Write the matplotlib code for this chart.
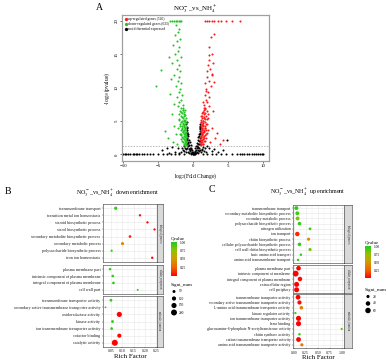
import numpy as np
import matplotlib
matplotlib.use("Agg")
import matplotlib.pyplot as plt
import matplotlib.colorbar as mcb
from matplotlib.colors import LinearSegmentedColormap, Normalize

plt.rcParams['font.family'] = ['Liberation Serif', 'DejaVu Serif']
plt.rcParams['mathtext.fontset'] = 'stix'

# ---------------- volcano data (A) ----------------
down_x = [-1.05, -1.10, -1.20, -1.15, -1.30, -1.10, -1.25, -1.40, -1.20, -1.35, -1.50, -1.30, -1.60, -1.45, -1.70, -1.55,
          -1.40, -1.60, -1.50, -1.70, -1.45, -1.80, -1.60, -1.90, -1.70, -2.00, -1.80, -2.10, -1.90, -2.20, -2.00, -1.75,
          -2.30, -1.60, -2.10, -1.85, -2.50, -1.70, -2.20, -2.00, -2.70, -1.90, -2.40, -2.10, -3.00, -2.30, -1.80, -2.60,
          -2.20, -2.00, -2.90, -2.40, -1.90, -2.60, -2.20, -2.00, -2.50,
          -1.02, -1.08, -1.12, -1.18, -1.22, -1.28, -1.03, -1.06, -1.14, -1.24, -1.33, -1.38, -1.42, -1.48, -1.52, -1.58, -1.65, -1.75,
          -3.30, -3.00, -2.80, -2.50, -2.30, -2.10, -1.90, -1.70,
          -5.30, -4.60, -3.40, -3.10, -2.80, -2.50, -3.60, -2.90, -2.30, -4.00, -3.20, -2.70, -3.50,
          -1.01, -1.04, -1.07, -1.09, -1.11, -1.13, -1.16, -1.19, -1.21, -1.23, -1.26, -1.29, -1.31, -1.34, -1.36,
          -1.39, -1.41, -1.44, -1.47, -1.51, -1.54, -1.57, -1.62, -1.67, -1.72, -1.78, -1.85, -1.95, -2.05, -2.15]
down_y = [1.40, 1.80, 2.20, 2.60, 3.00, 3.40, 3.80, 4.20, 4.60, 5.00, 5.40, 5.80, 6.20, 6.60, 7.00, 7.40,
          1.60, 2.00, 2.50, 2.90, 3.30, 3.70, 4.00, 4.50, 4.90, 5.30, 5.70, 6.10, 6.50, 7.20, 7.80, 8.20,
          8.60, 8.90, 9.30, 9.80, 10.2, 10.6, 11.0, 11.5, 11.9, 12.4, 12.8, 13.3, 13.7, 14.1, 14.6, 15.0,
          15.5, 16.0, 16.4, 16.9, 17.3, 17.8, 18.3, 18.8, 19.3,
          1.50, 2.10, 2.70, 3.20, 3.60, 4.40, 2.40, 4.80, 5.20, 3.90, 6.30, 2.30, 4.70, 3.50, 6.90, 5.60, 4.30, 3.10,
          20, 20, 20, 20, 20, 20, 20, 20,
          10.2, 12.6, 9.0, 6.0, 4.2, 3.0, 2.4, 1.8, 1.5, 3.5, 11.2, 7.5, 14.5,
          1.9, 3.3, 4.1, 5.5, 2.9, 4.9, 1.7, 6.6, 3.1, 5.9, 2.0, 4.1, 6.0, 1.4, 3.6,
          5.2, 2.8, 4.6, 1.9, 3.4, 6.7, 2.6, 5.0, 3.8, 6.4, 2.3, 4.2, 3.0, 5.1, 4.0]

up_x = [1.05, 1.10, 1.20, 1.15, 1.30, 1.10, 1.25, 1.40, 1.20, 1.35, 1.50, 1.30, 1.60, 1.45, 1.70, 1.55,
        1.40, 1.60, 1.50, 1.70, 1.45, 1.80, 1.60, 1.90, 1.70, 2.00, 1.80, 2.10, 1.90, 2.20, 2.00, 1.75,
        2.30, 1.60, 2.10, 1.85, 2.50, 1.70, 2.20, 2.00, 2.70, 1.90, 2.40, 2.10, 2.80, 2.30, 1.80, 2.60,
        2.20, 2.50, 2.90, 1.40, 2.60,
        1.02, 1.08, 1.12, 1.18, 1.22, 1.28, 1.03, 1.06, 1.14, 1.24, 1.33, 1.38, 1.42, 1.48, 1.52, 1.58, 1.65, 1.75,
        1.70, 2.00, 2.30, 2.70, 3.00, 3.50, 4.00, 4.60, 5.50, 6.60,
        2.60, 3.10, 2.80, 3.40, 2.40, 3.80, 2.90, 4.30, 2.20,
        1.01, 1.04, 1.07, 1.09, 1.11, 1.13, 1.16, 1.19, 1.21, 1.23, 1.26, 1.29, 1.31, 1.34, 1.36,
        1.39, 1.41, 1.44, 1.47, 1.51, 1.54, 1.57, 1.62, 1.67, 1.72, 1.78, 1.85, 1.95, 2.05, 2.15]
up_y = [1.40, 1.80, 2.20, 2.60, 3.00, 3.40, 3.80, 4.20, 4.60, 5.00, 5.40, 5.80, 6.20, 6.60, 7.00, 7.40,
        1.60, 2.00, 2.50, 2.90, 3.30, 3.70, 4.00, 4.50, 4.90, 5.30, 5.70, 6.10, 6.50, 7.20, 7.80, 8.20,
        8.60, 8.90, 9.30, 9.80, 10.2, 10.6, 11.0, 11.5, 11.9, 12.4, 12.8, 13.3, 13.7, 14.1, 9.5, 15.0,
        16.0, 17.5, 18.0, 7.9, 12.0,
        1.50, 2.10, 2.70, 3.20, 3.60, 4.40, 2.40, 4.80, 5.20, 3.90, 6.30, 2.30, 4.70, 3.50, 6.90, 5.60, 4.30, 3.10,
        20, 20, 20, 20, 20, 20, 20, 20, 20, 20,
        4.0, 2.5, 6.5, 3.2, 1.9, 1.6, 10.8, 2.2, 14.8,
        2.1, 3.5, 4.3, 5.7, 1.6, 4.8, 2.9, 6.2, 3.0, 5.5, 1.8, 4.0, 6.4, 1.5, 3.3,
        5.0, 2.6, 4.4, 2.0, 3.7, 6.0, 2.7, 5.3, 3.9, 6.8, 2.4, 4.5, 3.2, 5.4, 3.6]

ns_x = [0.00, 0.10, -0.10, 0.20, -0.20, 0.30, -0.30, 0.40, -0.40, 0.50, -0.50, 0.60, -0.60, 0.70, -0.70, 0.80, -0.80, 0.90, -0.90, 0.95, -0.95, 0.98, -0.98,
        0.90, -0.90, 0.80, -0.80, 0.70, -0.70, 0.60, -0.60, 0.50, -0.50, 0.40, -0.40, 0.30, -0.30, 0.95, -0.95, 0.85, -0.85, 0.75, -0.75, 0.65, -0.65,
        0.92, -0.92, 0.88, -0.88, 0.97, -0.97, 0.99, -0.99,
        1.20, -1.20, 1.50, -1.50, 1.80, -1.80, 2.20, -2.20, 2.60, -2.60, 3.00, -3.00, 3.50, -3.50, 4.20, -4.50, 1.40, -1.30, 2.00, -2.00, 4.80, -3.80,
        -10.0, -9.8, -9.6, -9.3, -9.0, -8.7, -8.5, -8.2, -8.0, -7.7, -7.4, -7.0, -6.6, -6.2, -5.8, -5.0, -4.4, -3.8, -3.2, -2.6, -2.0, -1.4,
        1.4, 2.0, 2.7, 3.3, 4.0, 4.7, 5.5, 6.2, 6.6, 7.0, 7.3, 7.6, 8.0, 8.3, 8.6, 8.9, 9.2, 9.5, 9.8, 10.0,
        0.15, -0.15, 0.25, -0.25, 0.35, -0.35, 0.45, -0.45, 0.55, -0.55, 0.65, -0.65, 0.75, -0.75, 0.85,
        -0.85, 0.95, -0.95, 1.1, -1.1, 1.3, -1.3, 1.6, -1.6, 0.05, -0.05, 1.0, -1.0, 0.9, -0.9]
ns_y = [0.05, 0.20, 0.30, 0.50, 0.60, 0.90, 1.00, 1.30, 1.40, 1.70, 1.80, 2.10, 2.20, 2.60, 2.70, 3.00, 3.10, 3.50, 3.60, 4.00, 4.10, 4.60, 4.80,
        2.40, 2.50, 1.60, 1.70, 1.10, 1.20, 0.70, 0.80, 0.40, 0.50, 0.20, 0.25, 0.10, 0.12, 1.50, 1.60, 0.90, 1.00, 0.50, 0.40, 0.20, 0.15,
        3.00, 3.20, 2.00, 2.10, 3.80, 3.40, 4.30, 4.50,
        0.80, 0.90, 0.50, 0.60, 0.30, 0.40, 0.90, 1.00, 0.50, 0.40, 0.80, 1.10, 0.30, 0.20, 0.60, 0.70, 1.10, 1.20, 1.20, 0.20, 2.20, 0.90,
        0.05, 0.02, 0.06, 0.03, 0.05, 0.02, 0.04, 0.06, 0.03, 0.05, 0.02, 0.04, 0.06, 0.03, 0.05, 0.10, 0.04, 0.08, 0.03, 0.06, 0.05, 0.10,
        0.08, 0.04, 0.06, 0.03, 0.05, 0.07, 0.04, 0.02, 0.05, 0.03, 0.06, 0.02, 0.04, 0.05, 0.03, 0.06, 0.02, 0.04, 0.05, 0.03,
        0.10, 0.15, 0.40, 0.35, 0.60, 0.75, 0.90, 0.70, 1.20, 1.00, 1.60, 1.40, 2.00, 1.80, 2.70,
        2.30, 3.20, 2.90, 0.40, 0.30, 0.70, 0.50, 1.00, 0.90, 0.02, 0.03, 0.60, 0.80, 4.10, 3.90]

legend_labels = ['up-regulated genes (526)', 'down-regulated genes (633)', 'not differential expressed']

# ---------------- enrichment data (B: down) ----------------
facet_names = ['biological_process', 'cellular_component', 'molecular_function']

b_cat = ['biological_process'] * 8 + ['cellular_component'] * 4 + ['molecular_function'] * 7
b_terms = ['transmembrane transport', 'transition metal ion homeostasis', 'steroid biosynthetic process',
           'sterol biosynthetic process', 'secondary metabolite biosynthetic process', 'secondary metabolic process',
           'polysaccharide biosynthetic process', 'iron ion homeostasis',
           'plasma membrane part', 'intrinsic component of plasma membrane', 'integral component of plasma membrane',
           'cell wall part',
           'transmembrane transporter activity', 'secondary active transmembrane transporter activity',
           'oxidoreductase activity', 'kinase activity', 'ion transmembrane transporter activity',
           'cofactor binding', 'catalytic activity']
b_rich = [0.071, 0.178, 0.211, 0.242, 0.134, 0.101, 0.053, 0.232,
          0.046, 0.058, 0.061, 0.168,
          0.050, 0.026, 0.087, 0.057, 0.053, 0.087, 0.067]
b_q = [0.95, 0.02, 0.01, 0.00, 0.08, 0.42, 0.95, 0.02,
       0.95, 0.96, 0.96, 0.95,
       0.95, 0.95, 0.00, 0.95, 0.95, 0.00, 0.00]
b_num = [60, 30, 30, 28, 40, 55, 28, 32,
         35, 40, 40, 22,
         45, 18, 150, 45, 42, 95, 205]
b_size_breaks = [50, 100, 150, 200]

# ---------------- enrichment data (C: up) ----------------
c_cat = ['biological_process'] * 11 + ['cellular_component'] * 5 + ['molecular_function'] * 10
c_terms = ['transmembrane transport', 'secondary metabolite biosynthetic process', 'secondary metabolic process',
           'polysaccharide biosynthetic process', 'nitrogen utilization', 'ion transport',
           'chitin biosynthetic process', 'cellular polysaccharide biosynthetic process',
           'cell wall chitin biosynthetic process', 'basic amino acid transport', 'amino acid transmembrane transport',
           'plasma membrane part', 'intrinsic component of membrane', 'integral component of plasma membrane',
           'extracellular region', 'cell periphery',
           'transmembrane transporter activity', 'secondary active transmembrane transporter activity',
           'L-amino acid transmembrane transporter activity', 'kinase regulator activity',
           'ion transmembrane transporter activity', 'heme binding',
           'glucosamine-6-phosphate N-acetyltransferase activity', 'chitin synthase activity',
           'cation transmembrane transporter activity', 'amino acid transmembrane transporter activity']
c_rich = [0.055, 0.075, 0.080, 0.120, 0.340, 0.075, 0.310, 0.120, 0.340, 0.150, 0.090,
          0.100, 0.040, 0.130, 0.060, 0.060,
          0.090, 0.120, 0.160, 0.035, 0.100, 0.100, 1.000, 0.120, 0.100, 0.170]
c_q = [0.95, 0.92, 0.80, 0.95, 0.95, 0.10, 0.45, 0.95, 0.80, 0.97, 0.95,
       0.00, 0.00, 0.02, 0.00, 0.00,
       0.00, 0.02, 0.40, 0.95, 0.00, 0.00, 0.85, 0.95, 0.00, 0.35]
c_num = [32, 30, 30, 25, 15, 40, 20, 25, 20, 12, 12,
         42, 68, 40, 50, 50,
         45, 35, 25, 10, 52, 52, 10, 12, 45, 20]
c_size_breaks = [20, 40, 60]

# ---------------- figure ----------------
W, H = 388, 362
fig = plt.figure(figsize=(W / 100, H / 100), dpi=100)


def ax_px(l, t, r, b):
    return fig.add_axes([l / W, 1 - b / H, (r - l) / W, (b - t) / H])


def ftext(x, y, s, **kw):
    fig.text(x / W, 1 - y / H, s, **kw)


cmap = LinearSegmentedColormap.from_list('q', ['#FF0000', '#EE6400', '#D49A00', '#92C200', '#1ECC1E'])
norm = Normalize(0, 1)

# ---- A: volcano ----
ax = ax_px(122, 15, 269, 161)
ax.scatter(ns_x, ns_y, s=2.2, color='black', linewidths=0, label=legend_labels[2], zorder=2)
ax.scatter(down_x, down_y, s=2.2, color='#22C322', linewidths=0, label=legend_labels[1], zorder=3)
ax.scatter(up_x, up_y, s=2.2, color='#FF1A1A', linewidths=0, label=legend_labels[0], zorder=3)
ax.axhline(-np.log10(0.05), color='#999999', lw=0.5, ls=(0, (2, 2)), zorder=1)
ax.set_xlim(-10.2, 10.8)
ax.set_ylim(-1.0, 20.85)
ax.set_xticks([-10, -5, 0, 5, 10])
ax.set_yticks([0, 5, 10, 15, 20])
ax.tick_params(labelsize=3.5, length=1.5, width=0.4, pad=1)
for lab in ax.get_yticklabels():
    lab.set_rotation(90)
    lab.set_va('center')
for sp in ax.spines.values():
    sp.set_color('#A0A0A0')
    sp.set_linewidth(0.9)
h, l = ax.get_legend_handles_labels()
order = [2, 1, 0]
ax.legend([h[i] for i in order], [l[i] for i in order], loc='upper left', frameon=False, fontsize=2.6,
          markerscale=1.6, handletextpad=0.1, borderaxespad=0.2, labelspacing=0.25, handlelength=1)
ax.set_xlabel(r'log$_2$(Fold Change)', fontsize=4, labelpad=2)
ax.set_ylabel(r'-log$_{10}$(pvalue)', fontsize=4, labelpad=2)
ftext(99, 7, 'A', fontsize=7, ha='center', va='center')
ftext(195, 9, r'NO$_3^-$_vs_NH$_4^+$', fontsize=5, ha='center', va='center')


# ---- dot plots ----
def dot_panel(cats, terms, rich, q, num, left, right, bounds, strip_w, xlim, xticks, xlabels, csize, label_fs):
    def size(v):
        return (csize * np.sqrt(v) * 0.72) ** 2
    for k, (cat, (top, bot)) in enumerate(zip(facet_names, bounds)):
        idx = [i for i in range(len(terms)) if cats[i] == cat]
        n = len(idx)
        a = ax_px(left, top, right, bot)
        ypos = [n - 1 - j for j in range(n)]
        a.scatter([rich[i] for i in idx], ypos, s=[size(num[i]) for i in idx],
                  c=[q[i] for i in idx], cmap=cmap, norm=norm, linewidths=0, zorder=3)
        a.set_xlim(xlim)
        a.set_ylim(-0.6, n - 0.4)
        a.set_yticks(ypos)
        a.set_yticklabels([terms[i] for i in idx], fontsize=label_fs)
        a.set_xticks(xticks)
        a.set_xticks([(xticks[j] + xticks[j + 1]) / 2 for j in range(len(xticks) - 1)], minor=True)
        a.grid(True, which='major', color='#E6E6E6', lw=0.4)
        a.grid(True, which='minor', axis='x', color='#F0F0F0', lw=0.3)
        a.set_axisbelow(True)
        a.tick_params(length=1.0, width=0.3, pad=0.8, colors='#333333', labelcolor='#1A1A1A')
        a.tick_params(which='minor', length=0)
        for sp in a.spines.values():
            sp.set_color('#333333')
            sp.set_linewidth(0.4)
        if k < 2:
            a.tick_params(labelbottom=False, bottom=False)
        else:
            a.set_xticklabels(xlabels, fontsize=2.8)
            a.set_xlabel('Rich Factor', fontsize=5, labelpad=0.5)
        s = ax_px(right, top, right + strip_w, bot)
        s.set_facecolor('#D9D9D9')
        s.set_xticks([])
        s.set_yticks([])
        for sp in s.spines.values():
            sp.set_color('#333333')
            sp.set_linewidth(0.4)
        s.text(0.5, 0.5, cat, rotation=270, fontsize=1.8, color='#1A1A1A',
               ha='center', va='center', transform=s.transAxes)
    return size


def legends(x, qtop, qbot, stop, breaks, size):
    ftext(x, qtop - 4, 'Qvalue', fontsize=3.5, ha='left', va='center')
    cax = ax_px(x, qtop, x + 6, qbot)
    cb = mcb.ColorbarBase(cax, cmap=cmap, norm=norm, orientation='vertical')
    cb.set_ticks([0.25, 0.50, 0.75, 1.00])
    cb.set_ticklabels(['0.25', '0.50', '0.75', '1.00'])
    cb.ax.tick_params(labelsize=2.6, length=1.2, width=0.3, color='white', pad=1)
    cb.outline.set_visible(False)
    ftext(x, stop, 'Signi_num', fontsize=3.5, ha='left', va='center')
    lax = ax_px(x, stop + 3, x + 20, stop + 3 + 7 * len(breaks))
    lax.set_xlim(0, 20)
    lax.set_ylim(len(breaks), 0)
    lax.axis('off')
    rows = np.arange(len(breaks)) + 0.5
    lax.scatter([3] * len(breaks), rows, s=[size(v) for v in breaks], color='black', linewidths=0)
    for r, v in zip(rows, breaks):
        lax.text(8, r, str(v), fontsize=2.6, va='center', ha='left')


# B
b_size = dot_panel(b_cat, b_terms, b_rich, b_q, b_num, 103, 157,
                   [(204, 262), (265, 294), (296, 347)], 5.5, (0.015, 0.253),
                   [0.05, 0.10, 0.15, 0.20, 0.25], ['0.05', '0.10', '0.15', '0.20', '0.25'], 0.42, 3.0)
ftext(8, 191, 'B', fontsize=7, ha='center', va='center')
ftext(117, 193, r'NO$_3^-$_vs_NH$_4^+$ down enrichment', fontsize=4.3, ha='center', va='center')
legends(171, 242, 276, 285, b_size_breaks, b_size)

# C
c_size = dot_panel(c_cat, c_terms, c_rich, c_q, c_num, 293, 344,
                   [(205, 263), (265, 293), (294, 348)], 8, (-0.015, 1.048),
                   [0.00, 0.25, 0.50, 0.75, 1.00], ['0.00', '0.25', '0.50', '0.75', '1.00'], 0.71, 2.8)
ftext(212, 190, 'C', fontsize=7, ha='center', va='center')
ftext(308, 192, r'NO$_3^-$_vs_NH$_4^+$ up enrichment', fontsize=4.3, ha='center', va='center')
legends(365, 246, 278, 290, c_size_breaks, c_size)

fig.savefig('out.png', dpi=100)
